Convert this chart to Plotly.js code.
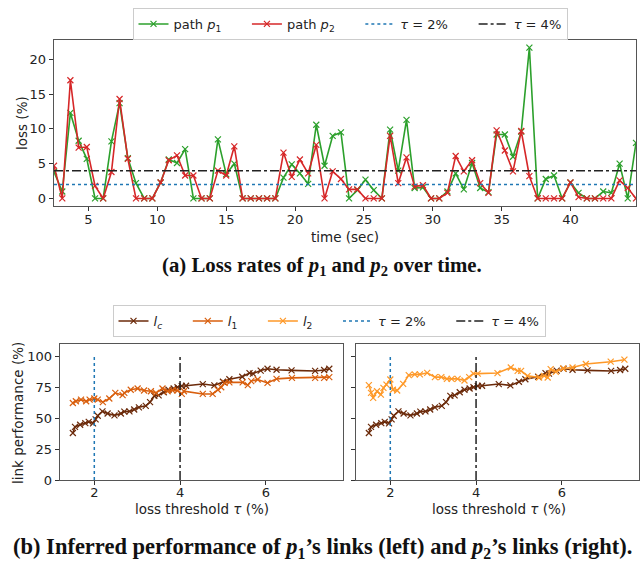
<!DOCTYPE html>
<html><head><meta charset="utf-8">
<script src="https://cdn.plot.ly/plotly-3.0.1.min.js"></script>
<style>html,body{margin:0;padding:0;background:#fff}#chart{width:644px;height:563px}</style>
</head><body><div id="chart"></div>
<script>
const timeSec = [2.50,3.10,3.69,4.29,4.88,5.48,6.07,6.67,7.26,7.86,8.45,9.05,9.64,10.24,10.83,11.43,12.02,12.62,13.21,13.81,14.40,15.00,15.59,16.19,16.78,17.38,17.97,18.57,19.16,19.76,20.35,20.95,21.54,22.14,22.73,23.33,23.92,24.52,25.11,25.71,26.30,26.90,27.49,28.09,28.68,29.28,29.87,30.47,31.06,31.66,32.25,32.85,33.44,34.04,34.63,35.23,35.82,36.42,37.01,37.61,38.20,38.80,39.39,39.99,40.58,41.18,41.77,42.37,42.96,43.56,44.15,44.75];
const lossP1 = [3.8,1.0,12.3,8.3,5.7,0,0,8.2,13.7,5.8,2.2,0,0,2.3,5.6,5.1,7.1,0,0,0,8.5,
 3.5,5.0,0,0,0,0,0,3.0,4.9,3.6,2.1,10.6,4.7,9.0,9.5,0,1.2,2.7,1.2,0,9.9,4.0,11.3,1.5,
 1.6,0,0,1.0,3.6,1.3,5.1,1.5,0.9,9.2,9.2,6.0,9.6,21.7,0,2.8,3.3,0,2.3,0.8,0,0,1.0,0.8,5.0,0,8.0];
const lossP2 = [4.7,0,17.0,7.3,7.4,1.8,0,3.8,14.3,5.7,0,0,0,2.3,5.5,6.2,3.3,3.3,0,0,4.0,
 3.3,7.5,0,0,0,0,0,6.6,3.1,5.6,3.6,7.7,0,3.9,2.8,1.3,1.3,0,0,0,9.0,2.2,5.9,1.7,
 1.9,0,0,0.8,6.1,3.9,5.5,2.2,0.8,9.8,6.9,3.9,9.7,3.2,0,0,0,0,2.3,0.2,0,0,0,0,2.6,1.5,0];
const thresholds = [2, 4];
const thresholdLabels = ['<i>τ</i> = 2%', '<i>τ</i> = 4%'];

const tauC = [1.5,1.55,1.67,1.79,1.87,1.97,2.03,2.08,2.19,2.31,2.47,2.62,2.7,2.82,2.93,3.04,3.2,3.3,3.4,3.5,3.62,3.73,3.85,3.94,4.04,4.14,4.53,4.8,5.0,5.15,5.45,5.62,5.7,5.88,6.04,6.25,6.6,7.15,7.36,7.48];
const perfC = [38,43,44.7,46,47,45.8,49,52,55.5,53.8,52.3,53.8,55.3,55.5,57,58.8,60,63,68,68.5,71,73,74,75,76,76.2,77.6,76.5,79.5,81.5,83.5,86.5,86,88.5,90,89.2,88.7,88.2,89,90];
const tau1 = [1.5,1.57,1.69,1.81,1.89,2.0,2.08,2.2,2.35,2.49,2.66,2.7,2.85,3.01,3.16,3.32,3.44,3.59,3.71,3.82,3.94,4.04,4.09,4.53,4.76,4.88,4.96,5.04,5.15,5.46,5.58,5.66,5.81,6.04,6.25,6.61,7.15,7.36,7.48];
const perf1 = [62.3,63.7,65,63.7,65,65.9,65,63,65.9,70.5,68.6,70.5,73,74,72.4,71.8,70.5,74,71.8,72.6,72.4,69.6,71.8,69.6,69.6,73,75,78.6,79,79,76.7,80,81.3,78.5,81.8,82.6,82.6,82.6,83.2];
const tau2 = [1.5,1.55,1.6,1.69,1.78,1.84,1.91,2.0,2.06,2.16,2.3,2.43,2.57,2.69,2.86,3.04,3.19,3.32,3.43,3.57,3.73,3.84,3.94,4.04,4.5,4.81,4.97,5.05,5.2,5.47,5.59,5.67,5.74,5.86,6.03,6.25,6.56,7.14,7.46];
const perf2 = [76.7,70.5,66.4,71.8,69,74.5,77.2,81.3,73,72.4,77.8,84.8,85.4,85.4,86.7,83.2,83.2,81.8,81.8,81.8,80.5,83.2,86,86,86.5,91,88.3,88.3,84.2,82.9,84.2,82.9,89.7,87.5,90.2,91,93.8,95.7,97.3];
const perfRange = [0, 100];

const W = 644, H = 563;
const px = v => v / W;
const py = v => 1 - v / H;
const FONT = 'DejaVu Sans, sans-serif';
const GREEN = '#2ca02c', RED = '#d62728';
const CC = '#6b2a0a', C1 = '#d95f0e', C2 = '#fe9929';
const TAU_STYLES = [{color:'#1f77b4', dash:'dot', width:1.5}, {color:'#222222', dash:'dashdot', width:1.5}];
const PAD = '\u00a0\u00a0\u00a0\u00a0\u00a0';

function series(x, y, color, name, xa, ya, legend, show, rank) {
  return {x, y, type:'scatter', mode:'lines+markers', name, xaxis:xa, yaxis:ya,
    legend, showlegend:show, legendrank:rank,
    line:{color, width:1.6},
    marker:{symbol:'x-thin', size:6, color, line:{color, width:1.2}}};
}

const traces = [];
traces.push(series(timeSec, lossP1, GREEN, 'path <i>p</i><sub>1</sub>' + PAD, 'x', 'y', 'legend', true, 1));
traces.push(series(timeSec, lossP2, RED, 'path <i>p</i><sub>2</sub>' + PAD, 'x', 'y', 'legend', true, 2));
thresholds.forEach((t, k) => {
  traces.push({x:[timeSec[0], timeSec[timeSec.length-1]], y:[t, t], type:'scatter', mode:'lines',
    name:thresholdLabels[k] + (k === 0 ? PAD : ''), xaxis:'x', yaxis:'y', legend:'legend', legendrank:3+k,
    line:TAU_STYLES[k]});
});
traces.push(series(tauC, perfC, CC, '<i>l</i><sub><i>c</i></sub>' + PAD, 'x2', 'y2', 'legend2', true, 1));
traces.push(series(tau1, perf1, C1, '<i>l</i><sub>1</sub>' + PAD, 'x2', 'y2', 'legend2', true, 2));
traces.push(series(tauC, perfC, CC, '<i>l</i><sub><i>c</i></sub>', 'x3', 'y3', 'legend2', false, 1));
traces.push(series(tau2, perf2, C2, '<i>l</i><sub>2</sub>' + PAD, 'x3', 'y3', 'legend2', true, 3));
thresholds.forEach((t, k) => {
  ['2','3'].forEach(s => {
    traces.push({x:[t, t], y:perfRange, type:'scatter', mode:'lines',
      name:thresholdLabels[k] + (k === 0 ? PAD : ''), xaxis:'x'+s, yaxis:'y'+s, legend:'legend2',
      showlegend: s === '2', legendrank:4+k, line:TAU_STYLES[k]});
  });
});

const axBase = {showline:true, mirror:true, linecolor:'#555', linewidth:1.3, ticks:'outside',
  ticklen:4, tickwidth:1, tickcolor:'#333', showgrid:false, zeroline:false,
  tickfont:{family:FONT, size:13, color:'#222'}};
const tfont = {family:FONT, size:13.5, color:'#222'};
const legFont = {family:FONT, size:13, color:'#222'};

function axTitle(text, x, y, angle) {
  return {text, xref:'paper', yref:'paper', x:px(x), y:py(y), xanchor:'center', yanchor:'middle',
    showarrow:false, textangle:angle || 0, font:tfont};
}

const layout = {
  width:W, height:H, margin:{l:0, r:0, t:0, b:0},
  paper_bgcolor:'#fff', plot_bgcolor:'#fff', font:{family:FONT, size:13, color:'#222'},
  xaxis:Object.assign({}, axBase, {domain:[px(54), px(636)], range:[2.5, 44.75], anchor:'y',
    tickvals:[5,10,15,20,25,30,35,40], ticklabelstandoff:-3}),
  yaxis:Object.assign({}, axBase, {domain:[py(206), py(40)], range:[-1.085, 22.785], anchor:'x',
    tickvals:[0,5,10,15,20]}),
  xaxis2:Object.assign({}, axBase, {domain:[px(60), px(343)], range:[1.2, 7.8], anchor:'y2',
    tickvals:[2,4,6], ticklabelstandoff:-4}),
  yaxis2:Object.assign({}, axBase, {domain:[py(480), py(344)], range:[0, 110], anchor:'x2',
    tickvals:[0,25,50,75,100]}),
  xaxis3:Object.assign({}, axBase, {domain:[px(356), px(639)], range:[1.2, 7.8], anchor:'y3',
    tickvals:[2,4,6], ticklabelstandoff:-4}),
  yaxis3:Object.assign({}, axBase, {domain:[py(480), py(344)], range:[0, 110], anchor:'x3',
    tickvals:[0,25,50,75,100], showticklabels:false}),
  legend:{orientation:'h', x:px(350), xanchor:'center', y:py(8), yanchor:'top',
    bgcolor:'#fff', bordercolor:'#ccc', borderwidth:1, font:legFont, traceorder:'normal'},
  legend2:{orientation:'h', x:px(329), xanchor:'center', y:py(305), yanchor:'top',
    bgcolor:'#fff', bordercolor:'#ccc', borderwidth:1, font:legFont, traceorder:'normal'},
  annotations:[
    axTitle('time (sec)', 345, 237),
    axTitle('loss (%)', 22, 123, -90),
    axTitle('loss threshold <i>τ</i> (%)', 202, 509),
    axTitle('loss threshold <i>τ</i> (%)', 499, 509),
    axTitle('link performance (%)', 18, 413, -90),
    {text:'<b>(a) Loss rates of <i>p</i><sub>1</sub> and <i>p</i><sub>2</sub> over time.</b>',
     xref:'paper', yref:'paper', x:px(322), y:py(266), xanchor:'center', yanchor:'middle',
     showarrow:false, font:{family:'Liberation Serif, serif', size:20.8, color:'#111'}},
    {text:'<b>(b) Inferred performance of <i>p</i><sub>1</sub>’s links (left) and <i>p</i><sub>2</sub>’s links (right).</b>',
     xref:'paper', yref:'paper', x:px(322), y:py(548), xanchor:'center', yanchor:'middle',
     showarrow:false, font:{family:'Liberation Serif, serif', size:22.5, color:'#111'}}
  ]
};

Plotly.newPlot('chart', traces, layout, {staticPlot:true, displayModeBar:false});
</script>
</body></html>
